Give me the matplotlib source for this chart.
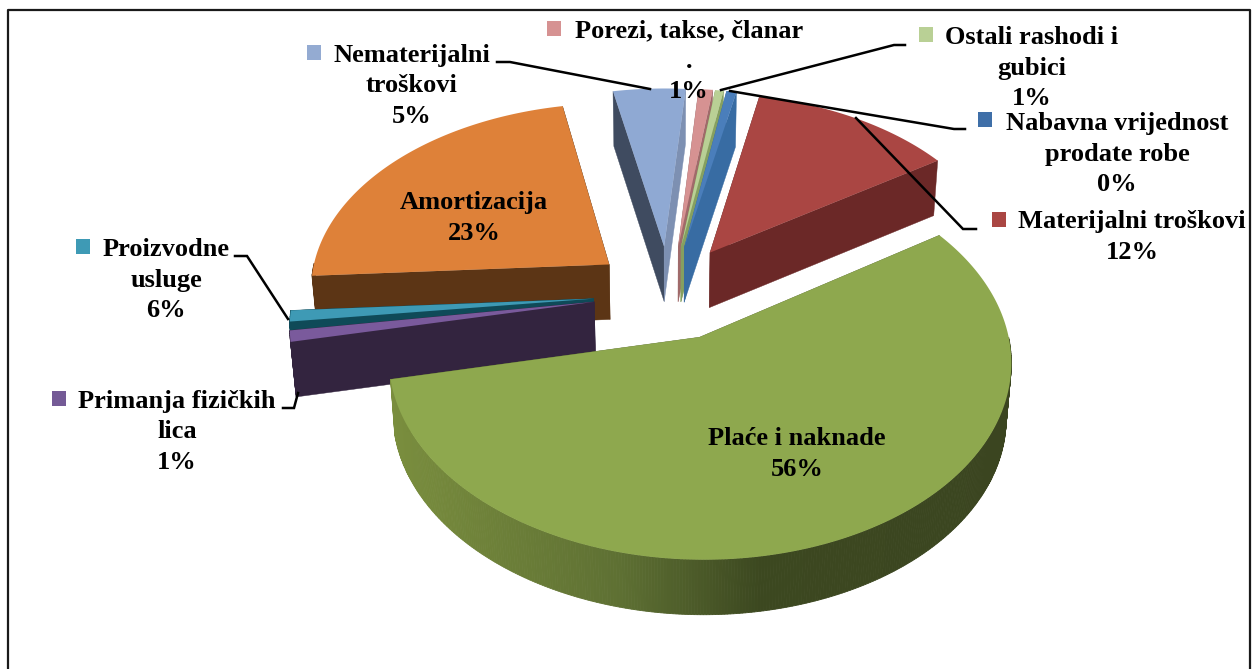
import numpy as np
import matplotlib
matplotlib.use("Agg")
import matplotlib.pyplot as plt
from matplotlib.colors import to_rgb
from matplotlib.patches import Polygon, Rectangle

# slices in clockwise order, starting from the thin blue one
labels = [
    "Nabavna vrijednost\nprodate robe",
    "Materijalni troškovi",
    "Plaće i naknade",
    "Primanja fizičkih\nlica",
    "Proizvodne\nusluge",
    "Amortizacija",
    "Nematerijalni\ntroškovi",
    "Porezi, takse, članar\n.",
    "Ostali rashodi i\ngubici",
]
percents = [0, 12, 56, 1, 6, 23, 5, 1, 1]
# the angles as they are drawn in the picture differ from the printed labels
drawn_shares = [0.6, 12.4, 55.8, 0.95, 1.4, 22.8, 4.4, 0.85, 0.5]
explode = [0.23, 0.25, 0.28, 0.235, 0.235, 0.23, 0.23, 0.23, 0.23]

top_colors = ["#4a7ebb", "#aa4643", "#8ea84e", "#7a5a9c", "#3e9ab5",
              "#de8139", "#8fa9d3", "#d69292", "#b9d095"]
wall_colors = ["#386ca3", "#6b2827", "#5e7033", "#33243f", "#0f4a58",
               "#5c3515", "#3f4b60", "#a06a6a", "#86a060"]
marker_colors = ["#3f6fa8", "#aa4643", "#8ea84e", "#745a96", "#3e9ab5",
                 "#de8139", "#94abd2", "#d69292", "#b9d095"]
draw_order = [6, 7, 8, 0, 1, 5, 4, 3, 2]
# small corrections of each slice, in pixels
nudge_x = [2, -1, -4, -6, -6, -7, -2, 1, 1]
nudge_y = [0, 2, 0, 6, 6, 2, 0, 0, 0]

START = 9.5
CX, CY = 670.0, 288.0
RX, RY = 300.0, 185.0
PERSP = 0.114
DEPTH = 55.0
BOTTOM_SHRINK = 0.985
TEAL_BAND = 0.33
NEMAT_RIGHT_WALL = "#7d90b2"

GREEN_WALL_X = [390, 620, 760, 1010]
GREEN_WALL_C = ["#7a8e3e", "#5e7033", "#3c4820", "#3b4520"]

# x, y of label centre, marker box left/top, leader points (image pixels)
label_pos = [(1117, 154), (1132, 237), (797, 454), (177, 432), (166, 280),
             (474, 218), (412, 86), (689, 61), (1032, 68)]
marker_pos = [(978, 112), (992, 212), None, (52, 391), (76, 239),
              None, (307, 45), (547, 21), (919, 27)]
leaders = [
    [(965, 129), (954, 129), (730, 91)],
    [(976, 229), (963, 229), (856, 118)],
    None,
    [(283, 408), (294, 408), (298, 393)],
    [(235, 256), (247, 256), (288, 319)],
    None,
    [(497, 62), (510, 62), (650, 89)],
    None,
    [(905, 45), (894, 45), (721, 90)],
]


def project(u, v):
    w = 1 + PERSP * v
    return CX + RX * u / w, CY - RY * v / w


def lower(x, y):
    return CX + (x - CX) * BOTTOM_SHRINK, y + DEPTH


fig = plt.figure(figsize=(12.59, 6.69), dpi=100)
ax = fig.add_axes([0, 0, 1, 1])
ax.set_xlim(0, 1259)
ax.set_ylim(669, 0)
ax.axis("off")

edges = START + np.concatenate([[0], np.cumsum(drawn_shares)]) * 360 / sum(drawn_shares)

for i in draw_order:
    t0, t1 = edges[i], edges[i + 1]
    mid = np.radians((t0 + t1) / 2)
    au = explode[i] * np.sin(mid)
    av = explode[i] * np.cos(mid)
    ts = np.radians(np.linspace(t0, t1, max(3, int(t1 - t0) * 2)))
    ax_, ay_ = project(au, av)
    ax_, ay_ = ax_ + nudge_x[i], ay_ + nudge_y[i]
    xs, ys = project(au + np.sin(ts), av + np.cos(ts))
    xs, ys = xs + nudge_x[i], ys + nudge_y[i]
    xb, yb = lower(xs, ys)
    axb, ayb = lower(ax_, ay_)

    # radial walls
    for j in (0, -1):
        c = NEMAT_RIGHT_WALL if (i == 6 and j == -1) else wall_colors[i]
        wall = [(ax_, ay_), (xs[j], ys[j]), (xb[j], yb[j]), (axb, ayb)]
        ax.add_patch(Polygon(wall, fc=c, ec=c, lw=0.3, zorder=1))
    # outer wall, shaded strip by strip, only where it faces the viewer
    for j in range(len(ts) - 1):
        if np.cos(ts[j]) > 0:
            continue
        c = wall_colors[i]
        if i == 2:
            xm = (xs[j] + xs[j + 1]) / 2
            rgb = np.array([to_rgb(k) for k in GREEN_WALL_C])
            c = tuple(np.interp(xm, GREEN_WALL_X, rgb[:, k]) for k in range(3))
        strip = [(xs[j], ys[j]), (xs[j + 1], ys[j + 1]), (xb[j + 1], yb[j + 1]), (xb[j], yb[j])]
        ax.add_patch(Polygon(strip, fc=c, ec=c, lw=0.6, zorder=1))

    if i == 4:
        # teal has a dark band on the side of the purple slice
        ax.add_patch(Polygon([(ax_, ay_)] + list(zip(xs, ys)), fc=wall_colors[i], lw=0, zorder=1))
        ts = np.radians(np.linspace(t0 + TEAL_BAND * (t1 - t0), t1, 4))
        xs, ys = project(au + np.sin(ts), av + np.cos(ts))
        xs, ys = xs + nudge_x[i], ys + nudge_y[i]
    ax.add_patch(Polygon([(ax_, ay_)] + list(zip(xs, ys)), fc=top_colors[i], lw=0, zorder=1))

font = dict(family="Liberation Serif", weight="bold", size=19, color="black",
            linespacing=1.4, ha="center", va="center", zorder=5)
for i, lab in enumerate(labels):
    x, y = label_pos[i]
    ax.text(x, y, f"{lab}\n{percents[i]}%", **font)
    if marker_pos[i] is not None:
        ax.add_patch(Rectangle(marker_pos[i], 14.5, 14.5, fc=marker_colors[i], lw=0, zorder=5))
    if leaders[i] is not None:
        px, py = zip(*leaders[i])
        ax.plot(px, py, color="black", lw=1.8, zorder=4, solid_joinstyle="miter")

# frame, open at the bottom
ax.plot([8, 8, 1250, 1250], [669, 10, 10, 669], color="#1a1a1a", lw=1.6, zorder=6)

fig.savefig("out.png", dpi=100)
